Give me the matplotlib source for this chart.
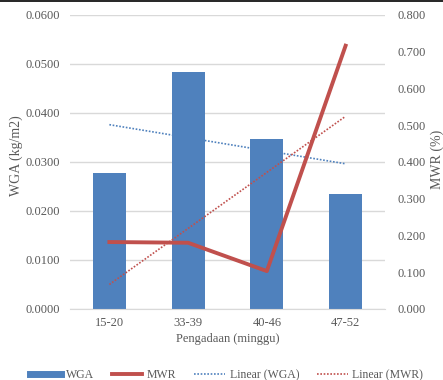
import numpy as np
import matplotlib
matplotlib.use("Agg")
import matplotlib.pyplot as plt
from matplotlib.lines import Line2D

categories = ["15-20", "33-39", "40-46", "47-52"]
wga = [0.0278, 0.0484, 0.0347, 0.0235]
mwr = [0.182, 0.180, 0.103, 0.716]

blue = "#4F81BD"
red = "#C0504D"
grey = "#595959"

plt.rcParams["font.family"] = ["Liberation Serif", "DejaVu Serif"]

fig = plt.figure(figsize=(4.43, 3.8), dpi=100)
ax = fig.add_axes([0.158, 0.187, 0.711, 0.774])
ax2 = ax.twinx()

x = np.arange(len(categories))
ax.bar(x, wga, width=0.42, color=blue, zorder=2)
ax.set_ylim(0, 0.06)
ax.set_yticks(np.arange(0, 0.0601, 0.01))
ax.yaxis.set_major_formatter(matplotlib.ticker.FormatStrFormatter("%.4f"))
ax.set_xlim(-0.5, len(categories) - 0.5)
ax.set_xticks(x)
ax.set_xticklabels(categories)
ax.grid(axis="y", color="#D9D9D9", linewidth=1, zorder=0)
ax.set_axisbelow(True)

# trendlines (linear fit, like Excel)
p1 = np.polyfit(x, wga, 1)
ax.plot(x, np.polyval(p1, x), color=blue, linestyle=(0, (1, 1)), linewidth=1.2, zorder=3)

ax2.plot(x, mwr, color=red, linewidth=2.8, zorder=4)
p2 = np.polyfit(x, mwr, 1)
ax2.plot(x, np.polyval(p2, x), color=red, linestyle=(0, (1, 1)), linewidth=1.2, zorder=3)
ax2.set_ylim(0, 0.8)
ax2.set_yticks(np.arange(0, 0.801, 0.1))
ax2.yaxis.set_major_formatter(matplotlib.ticker.FormatStrFormatter("%.3f"))

for a in (ax, ax2):
    for s in a.spines.values():
        s.set_visible(False)
    a.tick_params(length=0, labelsize=9, colors=grey)
ax.tick_params(axis="y", pad=7)
ax.tick_params(axis="x", pad=6)
ax2.tick_params(axis="y", pad=9)
ax.spines["bottom"].set_visible(True)
ax.spines["bottom"].set_color("#D9D9D9")

ax.set_ylabel("WGA (kg/m2)", fontsize=10, color=grey)
ax.yaxis.set_label_coords(-0.148, 0.52)
ax2.set_ylabel("MWR (%)", fontsize=10, color=grey)
ax2.yaxis.set_label_coords(1.146, 0.51)
ax.set_xlabel("Pengadaan (minggu)", fontsize=9, color=grey, labelpad=3)

handles = [
    Line2D([0], [0], color=blue, linewidth=5),
    Line2D([0], [0], color=red, linewidth=2.8),
    Line2D([0], [0], color=blue, linestyle=(0, (1, 1)), linewidth=1.2),
    Line2D([0], [0], color=red, linestyle=(0, (1, 1)), linewidth=1.2),
]
fig.legend(handles, ["WGA", "MWR", "Linear (WGA)", "Linear (MWR)"],
           loc="center", bbox_to_anchor=(0.512, 0.013), ncol=4, frameon=False,
           fontsize=8.5, labelcolor=grey, handlelength=2.6, columnspacing=1.5,
           handletextpad=0.4)

fig.add_artist(Line2D([0, 1], [0.998, 0.998], color="black", linewidth=1.2,
                      transform=fig.transFigure))

fig.savefig("out.png", dpi=100)
